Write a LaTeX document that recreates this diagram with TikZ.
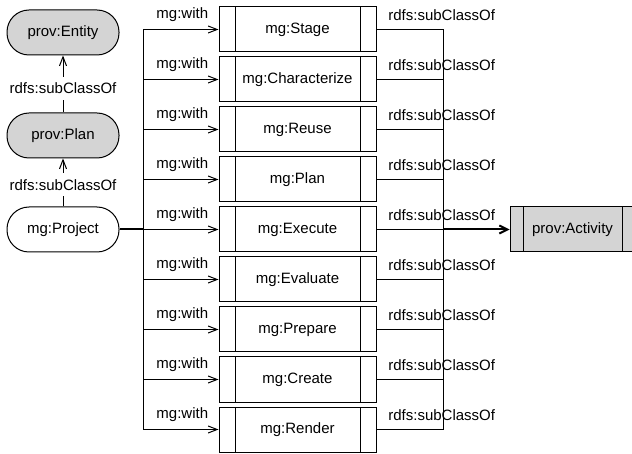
\documentclass[tikz,border=0pt]{standalone}
\usepackage{fontspec}
\setmainfont{Liberation Sans}
\usetikzlibrary{arrows.meta}
\definecolor{boxgray}{RGB}{212,212,212}
\begin{document}
\begin{tikzpicture}[x=1pt, y=-1pt,
  font=\fontsize{15pt}{18pt}\selectfont,
  thinline/.style={line width=1pt, draw=black},
  arr/.style={thinline, -{Straight Barb[length=9pt,width=7pt]}},
  thickarr/.style={line width=2pt, -{Straight Barb[length=8pt,width=8pt]}},
  term/.style={draw, line width=1pt, rounded corners=22pt,
    minimum width=112pt, minimum height=45pt, inner sep=0pt},
  classbox/.style={term, fill=boxgray},
  procbox/.style={draw, line width=1pt, minimum width=157pt,
    minimum height=45pt, inner sep=0pt,
    path picture={\draw[line width=1pt]
      ([xshift=16pt]path picture bounding box.north west) --
      ([xshift=16pt]path picture bounding box.south west)
      ([xshift=-16pt]path picture bounding box.north east) --
      ([xshift=-16pt]path picture bounding box.south east);}},
  actbox/.style={draw, line width=1pt, fill=boxgray, minimum width=125pt,
    minimum height=45pt, inner sep=0pt,
    path picture={\draw[line width=1pt]
      ([xshift=13pt]path picture bounding box.north west) --
      ([xshift=13pt]path picture bounding box.south west)
      ([xshift=-13pt]path picture bounding box.north east) --
      ([xshift=-13pt]path picture bounding box.south east);}},
  sublabel/.style={fill=white, inner xsep=1pt, inner ysep=6pt},
]
\clip (0,0) rectangle (632,454);

% left column: class hierarchy
\node[classbox] (entity) at (63,32.5) {prov:Entity};
\node[classbox] (plan) at (63,135.5) {prov:Plan};
\node[term] (project) at (63,229.5) {mg:Project};

\draw[arr] (plan.north) -- (entity.south)
  node[sublabel, pos=0.42] {rdfs:subClassOf};
\draw[arr] (project.north) -- (plan.south)
  node[sublabel, pos=0.45] {rdfs:subClassOf};

% stage activities
\foreach \name/\lbl [count=\i from 0] in {stage/Stage, charact/Characterize,
    reuse/Reuse, mgplan/Plan, execute/Execute, evaluate/Evaluate,
    prepare/Prepare, create/Create, render/Render}
  \node[procbox] (\name) at (297.5,29.5+50*\i) {mg:\lbl};

% the activity superclass
\node[actbox] (activity) at (572.5,229.5) {prov:Activity};

% trunks
\coordinate (ltop) at (143,29.5);
\coordinate (lbot) at (143,429.5);
\coordinate (rtop) at (443,29.5);
\coordinate (rbot) at (443,429.5);
\coordinate (ljoin) at (143,229.5);
\coordinate (rjoin) at (443,229.5);

\draw[thinline] (ltop) -- (lbot);
\draw[thinline] (rtop) -- (rbot);
\draw[line width=2pt] (project.east) -- (ljoin);
\draw[thickarr] (rjoin) -- (activity.west);

\foreach \name in {stage, charact, reuse, mgplan, execute, evaluate,
    prepare, create, render} {
  \draw[arr] (ltop |- \name.west) -- (\name.west)
    node[pos=0.52, yshift=14.5pt] {mg:with};
  \draw[thinline] (\name.east) -- (rtop |- \name.east)
    node[pos=0, anchor=west, xshift=8pt, yshift=14.5pt] {rdfs:subClassOf};
}
\end{tikzpicture}
\end{document}
